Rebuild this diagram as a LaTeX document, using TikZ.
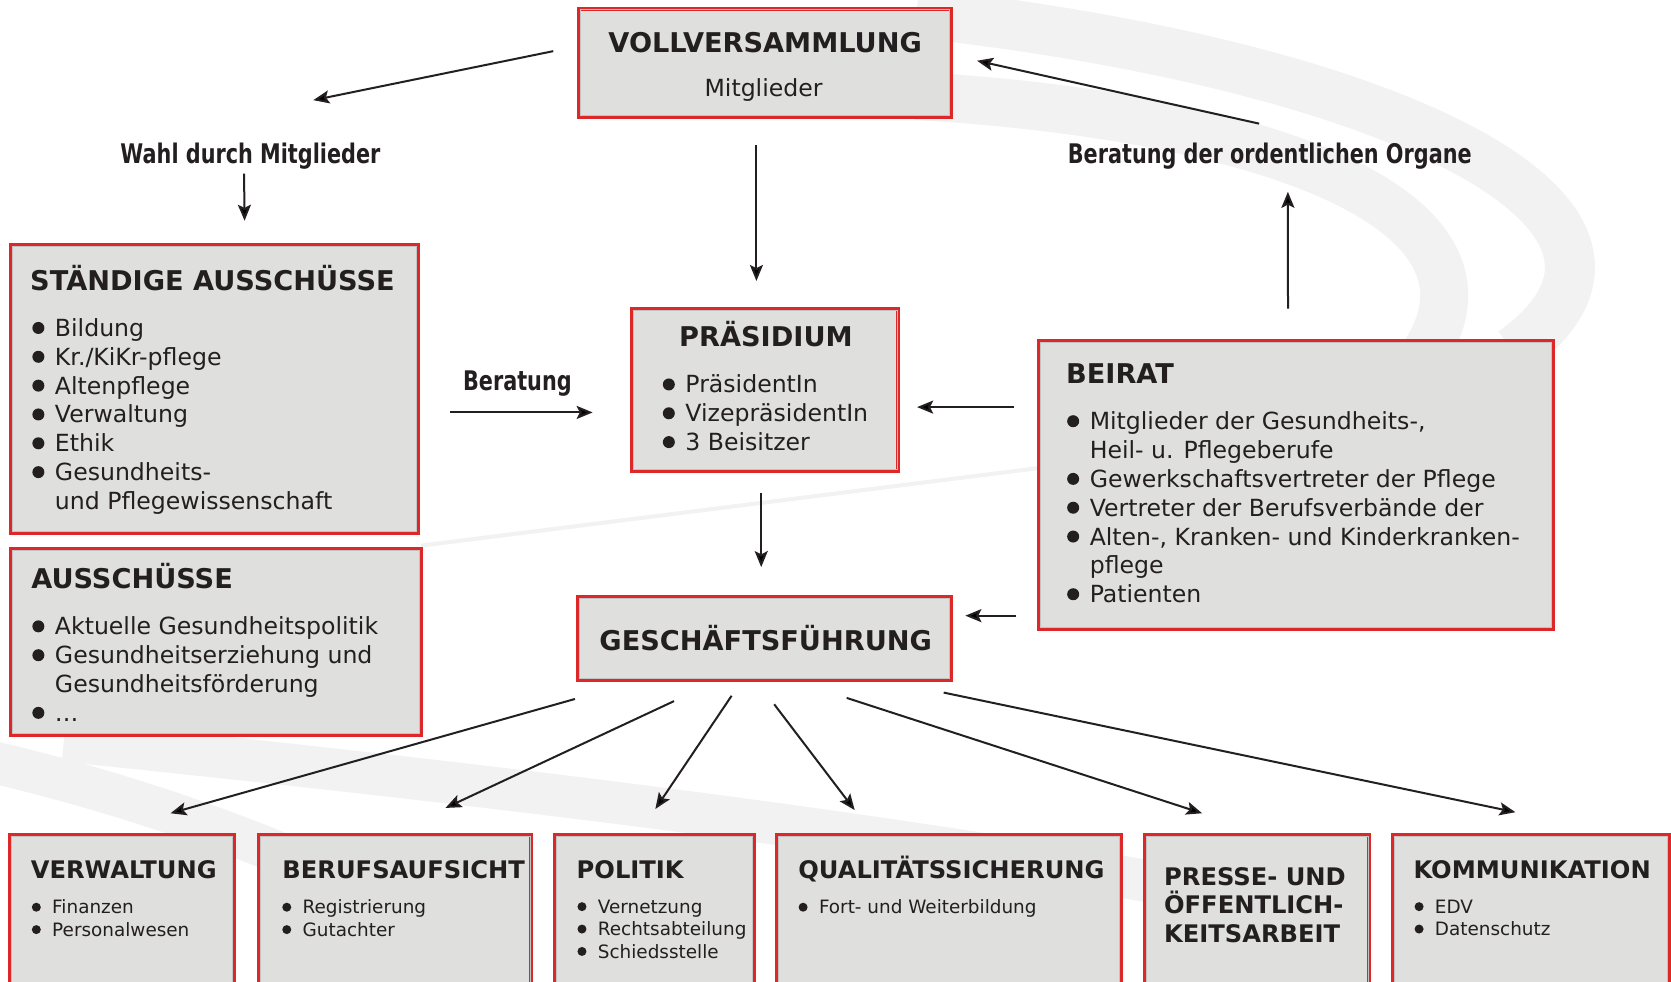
\documentclass[tikz,border=0pt]{standalone}
\usepackage{fontspec}
\setmainfont{DejaVu Sans}
\newfontfamily\labfont[FakeStretch=0.77]{DejaVu Sans}
\usetikzlibrary{arrows.meta,calc,fit}
\definecolor{boxred}{RGB}{220,40,40}
\definecolor{boxfill}{RGB}{223,223,222}
\definecolor{ink}{RGB}{35,31,32}
\definecolor{swoosh}{RGB}{242,242,242}
\definecolor{innerline}{RGB}{195,195,195}
\newcommand\bu[2]{\makebox[#2][l]{\tikz[baseline=0pt]{\fill[ink] (#1,0.36em) circle[radius=#1];}}}
\newcommand\bbig{\bu{3pt}{11.3pt}}
\newcommand\bsmall{\bu{2.25pt}{10.2pt}}
\newcommand\fntTitle{\fontsize{13.6pt}{16pt}\selectfont\bfseries}
\newcommand\fntBody{\fontsize{11.8pt}{14.42pt}\selectfont}
\newcommand\fntSTitle{\fontsize{12.1pt}{14.4pt}\selectfont\bfseries}
\newcommand\fntSBody{\fontsize{9.2pt}{11.2pt}\selectfont}
\newcommand\fntLab{\labfont\fontsize{13.5pt}{16pt}\selectfont\bfseries}
\newcommand\inl[1]{\draw[innerline, line width=0.45pt] ([shift={(1.7pt,-1.7pt)}]#1.north west) rectangle ([shift={(-1.7pt,1.7pt)}]#1.south east);}
\tikzset{
  panel/.style={draw=boxred, line width=2pt, fill=boxfill, inner sep=0pt, rectangle},
  arr/.style={draw=ink, line width=1pt, -{Stealth[length=8pt,width=6.5pt,inset=1.6pt]}},
  txt/.style={inner sep=0pt, text=ink, align=left},
}
\begin{document}
\begin{tikzpicture}[x=0.5329pt, y=-0.5329pt]
\useasboundingbox (0,0) rectangle (1568,921);
\clip (0,0) rectangle (1568,921);
\fill[white] (0,0) rectangle (1568,921);
% background swooshes
\begin{scope}[draw=swoosh, line cap=butt]
\draw[line width=25pt] (860,12) .. controls (1300,60) and (1600,200) .. (1420,330);
\draw[line width=24pt] (860,90) .. controls (1200,110) and (1420,200) .. (1338,330);
\draw[line width=21pt] (-20,712) .. controls (80,735) and (200,770) .. (330,830);
\draw[line width=21pt] (60,695) .. controls (400,730) and (800,775) .. (1150,840);
\draw[line width=2pt] (395,512) -- (1000,436);
\end{scope}
% panels
\node[panel, fit={(543,8) (892,110)}] (voll) {};
\node[panel, fit={(10,230) (392,500)}] (stan) {};
\node[panel, fit={(10,515) (395,690)}] (aus) {};
\node[panel, fit={(593,290) (843,442)}] (pras) {};
\node[panel, fit={(975,320) (1457,590)}] (bei) {};
\node[panel, fit={(542,560) (892,638)}] (gf) {};
\node[panel, fit={(9.4,783.5) (219.4,960)}] (verw) {};
\node[panel, fit={(243,783.5) (498.7,960)}] (beruf) {};
\node[panel, fit={(520.6,783.5) (707.3,960)}] (pol) {};
\node[panel, fit={(729,783.5) (1052,960)}] (qual) {};
\node[panel, fit={(1074,783.5) (1285,960)}] (presse) {};
\node[panel, fit={(1307,783.5) (1566,960)}] (komm) {};
\inl{voll}\inl{stan}\inl{aus}\inl{pras}\inl{bei}\inl{gf}
\inl{verw}\inl{beruf}\inl{pol}\inl{qual}\inl{presse}\inl{komm}
% texts
\node[txt, anchor=base, font=\fntTitle] (vollT) at (718,49.5) {VOLLVERSAMMLUNG};
\node[txt, anchor=base, font=\fntBody] (vollM) at (716.5,90.7) {Mitglieder};
\node[txt, anchor=base west, font=\fntTitle] (stanT) at (28,273) {STÄNDIGE AUSSCHÜSSE};
\node[txt, anchor=north west, font=\fntBody] (stanL) at (30,298.5) {\bbig Bildung\\ \bbig Kr./KiKr-pflege\\ \bbig Altenpflege\\ \bbig Verwaltung\\ \bbig Ethik\\ \bbig Gesundheits-\\ \hspace*{11.3pt}und Pflegewissenschaft};
\node[txt, anchor=base west, font=\fntTitle] (ausT) at (29,552) {AUSSCHÜSSE};
\node[txt, anchor=north west, font=\fntBody] (ausL) at (30,578.5) {\bbig Aktuelle Gesundheitspolitik\\ \bbig Gesundheitserziehung und\\ \hspace*{11.3pt}Gesundheitsförderung\\ \bbig \ldots};
\node[txt, anchor=base, font=\fntTitle] (prasT) at (718.7,325.3) {PRÄSIDIUM};
\node[txt, anchor=north west, font=\fntBody] (prasL) at (621.6,351.5) {\bbig PräsidentIn\\ \bbig VizepräsidentIn\\ \bbig 3 Beisitzer};
\node[txt, anchor=base west, font=\fntTitle] (beiT) at (1000,359.7) {BEIRAT};
\node[txt, anchor=north west, font=\fntBody] (beiL) at (1001,386) {\bbig Mitglieder der Gesundheits-,\\ \hspace*{11.3pt}Heil- u. Pflegeberufe\\ \bbig Gewerkschaftsvertreter der Pflege\\ \bbig Vertreter der Berufsverbände der\\ \bbig Alten-, Kranken- und Kinderkranken-\\ \hspace*{11.3pt}pflege\\ \bbig Patienten};
\node[txt, anchor=base, font=\fntTitle] (gfT) at (718.5,610.6) {GESCHÄFTSFÜHRUNG};
\node[txt, anchor=base, font=\fntLab] (wahl) at (235,153) {Wahl durch Mitglieder};
\node[txt, anchor=base, font=\fntLab] (bera2) at (1191.5,153) {Beratung der ordentlichen Organe};
\node[txt, anchor=base, font=\fntLab] (bera1) at (485.5,366) {Beratung};
% bottom texts
\node[txt, anchor=base west, font=\fntSTitle] (verwT) at (28.5,824) {VERWALTUNG};
\node[txt, anchor=north west, font=\fntSBody] (verwL) at (29.5,844) {\bsmall Finanzen\\ \bsmall Personalwesen};
\node[txt, anchor=base west, font=\fntSTitle] (berufT) at (264.7,824) {BERUFSAUFSICHT};
\node[txt, anchor=north west, font=\fntSBody] (berufL) at (264.5,844) {\bsmall Registrierung\\ \bsmall Gutachter};
\node[txt, anchor=base west, font=\fntSTitle] (polT) at (540.8,824) {POLITIK};
\node[txt, anchor=north west, font=\fntSBody] (polL) at (541.5,844) {\bsmall Vernetzung\\ \bsmall Rechtsabteilung\\ \bsmall Schiedsstelle};
\node[txt, anchor=base west, font=\fntSTitle] (qualT) at (748.7,824) {QUALITÄTSSICHERUNG};
\node[txt, anchor=north west, font=\fntSBody] (qualL) at (749,844) {\bsmall Fort- und Weiterbildung};
\node[txt, anchor=north west, font=\fntSTitle] (presseT) at (1092,813.3) {PRESSE- UND\\ÖFFENTLICH-\\KEITSARBEIT};
\node[txt, anchor=base west, font=\fntSTitle] (kommT) at (1326,824) {KOMMUNIKATION};
\node[txt, anchor=north west, font=\fntSBody] (kommL) at (1327,844) {\bsmall EDV\\ \bsmall Datenschutz};
% arrows
\draw[arr] ($(voll.west)+(-22,-11)$) -- ($(wahl.base)+(59,-59)$);
\draw[arr] ($(wahl.base)+(-6,10)$) -- ($(stan.north)+(28.5,-21)$);
\draw[arr] ($(voll.south)+(-7.7,24)$) -- ($(pras.north)+(-8.2,-24.5)$);
\draw[arr] ($(bei.north)+(-7.4,-28.5)$) -- ($(bera2.base)+(17,27)$);
\draw[arr] ($(bera2.base)+(-10,-37)$) -- ($(voll.east)+(23,-2)$);
\draw[arr] ($(stan.east)+(28.5,22)$) -- ($(pras.west)+(-35,21)$);
\draw[arr] ($(bei.west |- pras.east)+(-22,16)$) -- ($(pras.east)+(15.7,16)$);
\draw[arr] ($(pras.south)+(-3.7,19)$) -- ($(gf.north)+(-2.7,-26)$);
\draw[arr] ($(bei.west |- gf.east)+(-19.4,-21.3)$) -- ($(gf.east)+(12,-21.3)$);
\draw[arr] ($(gf.south)+(-177.5,16)$) -- ($(verw.north)+(45.6,-18.5)$);
\draw[arr] ($(gf.south)+(-84.5,18)$) -- ($(beruf.north)+(47.15,-23.5)$);
\draw[arr] ($(gf.south)+(-30.5,13)$) -- ($(pol.north)+(1,-22.5)$);
\draw[arr] ($(gf.south)+(9.5,21)$) -- ($(qual.north)+(-88.5,-21.5)$);
\draw[arr] ($(gf.south)+(77.5,15)$) -- ($(presse.north)+(-51.5,-18.5)$);
\draw[arr] ($(gf.south)+(168.5,10)$) -- ($(komm.north)+(-14.5,-19.5)$);
\end{tikzpicture}
\end{document}
